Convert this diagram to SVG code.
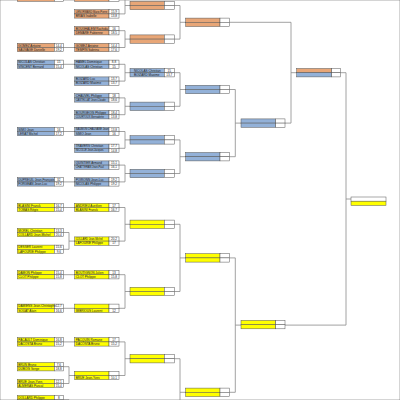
<svg xmlns="http://www.w3.org/2000/svg" width="400" height="400" viewBox="0 0 400 400">
<style>
.o{fill:#E8A677}.b{fill:#93B1D8}.y{fill:#FFFF00}.w{fill:#fff}
rect{stroke:#555;stroke-width:.5}
.c path{fill:none;stroke:#8a8a8a;stroke-width:.8}
text{font-family:"Liberation Sans",Arial,sans-serif;font-size:3.1px;fill:#222}
.n{font-size:2.6px}
.s{text-anchor:middle}
</style>
<rect width="400" height="400" fill="#fff" stroke="none"/>
<g class="c" id="connectors">
<path d="M63.3 47.5H74.7M63.3 64.3H74.7M63.3 131.5H74.7M63.3 181.9H74.7M63.3 207.5H74.7M63.3 274.7H74.7M63.3 308.3H74.7M63.3 341.9H74.7"/>
<path d="M63.3 232.5H69V249.3H63.3M69 241.1H74.7M63.3 366.7H69V383.5H63.3M69 375.5H74.7M63.3 399.7H69V402"/>
<path d="M119 -2.9H125V13.9H119M125 5.5H130M119 30.7H125V47.5H119M125 39.1H130M119 64.3H125V81.1H119M125 72.7H130M119 97.9H125V114.7H119M125 106.3H130M119 131.5H125V148.3H119M125 139.9H130M119 165.1H125V181.9H119M125 173.5H130M119 207.5H125V241.1H119M125 224.3H130M119 274.7H125V308.3H119M125 291.5H130M119 341.9H125V375.5H119M125 358.7H130"/>
<path d="M174.3 5.5H180V39.1H174.3M180 22.3H185.7M174.3 72.7H180V106.3H174.3M180 89.5H185.7M174.3 139.9H180V173.5H174.3M180 156.7H185.7M174.3 224.3H180V291.5H174.3M180 257.9H185.7M174.3 358.7H180V402M180 392.3H185.7"/>
<path d="M229.3 89.5H235.3V156.7H229.3M235.3 123.1H241M229.3 257.9H235.3V392.3H229.3M235.3 325.1H241"/>
<path d="M229.3 22.3H291V123.1H285M291 72.7H296.7M339.7 72.7H346V325.1H285M346 199H351"/>
</g>
<g id="c1-0" transform="translate(17.3,-7.1)"><rect class="o" width="37" height="4.2"/><rect class="o" y="4.2" width="37" height="4.2"/><rect class="w" x="37" width="9" height="4.2"/><rect class="w" x="37" y="4.2" width="9" height="4.2"/></g>
<g id="c1-1" transform="translate(17.3,43.3)"><rect class="o" width="37" height="4.2"/><rect class="o" y="4.2" width="37" height="4.2"/><rect class="w" x="37" width="9" height="4.2"/><rect class="w" x="37" y="4.2" width="9" height="4.2"/><text x="1" y="3.3">GOMEZ Antoine</text><text x="1" y="7.5">SAUVAGE Danielle</text><text class="s" x="41.5" y="3.3">14,4</text><text class="s" x="41.5" y="7.5">19,2</text></g>
<g id="c1-2" transform="translate(17.3,60.1)"><rect class="b" width="37" height="4.2"/><rect class="b" y="4.2" width="37" height="4.2"/><rect class="w" x="37" width="9" height="4.2"/><rect class="w" x="37" y="4.2" width="9" height="4.2"/><text x="1" y="3.3">NICOLAS Christian</text><text x="1" y="7.5">VINCENT Bernard</text><text class="s" x="41.5" y="3.3">15</text><text class="s" x="41.5" y="7.5">15,4</text></g>
<g id="c1-3" transform="translate(17.3,127.3)"><rect class="b" width="37" height="4.2"/><rect class="b" y="4.2" width="37" height="4.2"/><rect class="w" x="37" width="9" height="4.2"/><rect class="w" x="37" y="4.2" width="9" height="4.2"/><text x="1" y="3.3">SIMO Jean</text><text x="1" y="7.5">LERAT Michel</text><text class="s" x="41.5" y="3.3">16</text><text class="s" x="41.5" y="7.5">17,2</text></g>
<g id="c1-4" transform="translate(17.3,177.7)"><rect class="b" width="37" height="4.2"/><rect class="b" y="4.2" width="37" height="4.2"/><rect class="w" x="37" width="9" height="4.2"/><rect class="w" x="37" y="4.2" width="9" height="4.2"/><text x="1" y="3.3">DUPREUIL Jean-François</text><text x="1" y="7.5">FORGEAN Jean-Luc</text><text class="s" x="41.5" y="3.3">32</text><text class="s" x="41.5" y="7.5">19,2</text></g>
<g id="c1-5" transform="translate(17.3,203.3)"><rect class="y" width="37" height="4.2"/><rect class="y" y="4.2" width="37" height="4.2"/><rect class="w" x="37" width="9" height="4.2"/><rect class="w" x="37" y="4.2" width="9" height="4.2"/><text x="1" y="3.3">BLASINI Franck</text><text x="1" y="7.5">TOMAS Régis</text><text class="s" x="41.5" y="3.3">16,7</text><text class="s" x="41.5" y="7.5">15,4</text></g>
<g id="c1-6" transform="translate(17.3,228.3)"><rect class="y" width="37" height="4.2"/><rect class="y" y="4.2" width="37" height="4.2"/><rect class="w" x="37" width="9" height="4.2"/><rect class="w" x="37" y="4.2" width="9" height="4.2"/><text x="1" y="3.3">MOREL Christian</text><text x="1" y="7.5">COLLARD Jean-Michel</text><text class="s" x="41.5" y="3.3">13,3</text><text class="s" x="41.5" y="7.5">20,4</text></g>
<g id="c1-7" transform="translate(17.3,245.1)"><rect class="y" width="37" height="4.2"/><rect class="y" y="4.2" width="37" height="4.2"/><rect class="w" x="37" width="9" height="4.2"/><rect class="w" x="37" y="4.2" width="9" height="4.2"/><text x="1" y="3.3">DESSER Laurent</text><text x="1" y="7.5">LAFOURIE Philippe</text><text class="s" x="41.5" y="3.3">15,6</text><text class="s" x="41.5" y="7.5">9,6</text></g>
<g id="c1-8" transform="translate(17.3,270.5)"><rect class="y" width="37" height="4.2"/><rect class="y" y="4.2" width="37" height="4.2"/><rect class="w" x="37" width="9" height="4.2"/><rect class="w" x="37" y="4.2" width="9" height="4.2"/><text x="1" y="3.3">DAMON Philippe</text><text x="1" y="7.5">CLOT Philippe</text><text class="s" x="41.5" y="3.3">15,4</text><text class="s" x="41.5" y="7.5">15,8</text></g>
<g id="c1-9" transform="translate(17.3,304.1)"><rect class="y" width="37" height="4.2"/><rect class="y" y="4.2" width="37" height="4.2"/><rect class="w" x="37" width="9" height="4.2"/><rect class="w" x="37" y="4.2" width="9" height="4.2"/><text x="1" y="3.3">DAMIENS Jean-Christophe</text><text x="1" y="7.5">SOUAT Alain</text><text class="s" x="41.5" y="3.3">12,7</text><text class="s" x="41.5" y="7.5">16,6</text></g>
<g id="c1-10" transform="translate(17.3,337.7)"><rect class="y" width="37" height="4.2"/><rect class="y" y="4.2" width="37" height="4.2"/><rect class="w" x="37" width="9" height="4.2"/><rect class="w" x="37" y="4.2" width="9" height="4.2"/><text x="1" y="3.3">PACAULT Dominique</text><text x="1" y="7.5">DACOSTA Bruno</text><text class="s" x="41.5" y="3.3">16,8</text><text class="s" x="41.5" y="7.5">15,2</text></g>
<g id="c1-11" transform="translate(17.3,362.5)"><rect class="y" width="37" height="4.2"/><rect class="y" y="4.2" width="37" height="4.2"/><rect class="w" x="37" width="9" height="4.2"/><rect class="w" x="37" y="4.2" width="9" height="4.2"/><text x="1" y="3.3">BRUN Bruno</text><text x="1" y="7.5">DUBOIS Serge</text><text class="s" x="41.5" y="3.3">7,6</text><text class="s" x="41.5" y="7.5">18,8</text></g>
<g id="c1-12" transform="translate(17.3,379.3)"><rect class="y" width="37" height="4.2"/><rect class="y" y="4.2" width="37" height="4.2"/><rect class="w" x="37" width="9" height="4.2"/><rect class="w" x="37" y="4.2" width="9" height="4.2"/><text x="1" y="3.3">BRUE Jean-Yves</text><text x="1" y="7.5">ALMERAS Pascal</text><text class="s" x="41.5" y="3.3">12,1</text><text class="s" x="41.5" y="7.5">15,4</text></g>
<g id="c1-13" transform="translate(17.3,395.5)"><rect class="y" width="37" height="4.2"/><rect class="y" y="4.2" width="37" height="4.2"/><rect class="w" x="37" width="9" height="4.2"/><rect class="w" x="37" y="4.2" width="9" height="4.2"/><text x="1" y="3.3">DOLLARD Philippe</text><text class="s" x="41.5" y="3.3">8</text></g>
<g id="c2-0" transform="translate(74.7,-7.1)"><rect class="o" width="34.3" height="4.2"/><rect class="o" y="4.2" width="34.3" height="4.2"/><rect class="w" x="34.3" width="10" height="4.2"/><rect class="w" x="34.3" y="4.2" width="10" height="4.2"/></g>
<g id="c2-1" transform="translate(74.7,9.7)"><rect class="o" width="34.3" height="4.2"/><rect class="o" y="4.2" width="34.3" height="4.2"/><rect class="w" x="34.3" width="10" height="4.2"/><rect class="w" x="34.3" y="4.2" width="10" height="4.2"/><text class="n" x="1" y="3.2">LENORMAND Marie-Pierre</text><text x="1" y="7.5">BRIAS Isabelle</text><text class="s" x="39.3" y="3.3">15,9</text><text class="s" x="39.3" y="7.5">13,8</text></g>
<g id="c2-2" transform="translate(74.7,26.5)"><rect class="o" width="34.3" height="4.2"/><rect class="o" y="4.2" width="34.3" height="4.2"/><rect class="w" x="34.3" width="10" height="4.2"/><rect class="w" x="34.3" y="4.2" width="10" height="4.2"/><text x="1" y="3.3">BOUGHALEM Rachida</text><text x="1" y="7.5">DEMARE Fabienne</text><text class="s" x="39.3" y="3.3">16</text><text class="s" x="39.3" y="7.5">18,5</text></g>
<g id="c2-3" transform="translate(74.7,43.3)"><rect class="o" width="34.3" height="4.2"/><rect class="o" y="4.2" width="34.3" height="4.2"/><rect class="w" x="34.3" width="10" height="4.2"/><rect class="w" x="34.3" y="4.2" width="10" height="4.2"/><text x="1" y="3.3">GOMEZ Antoine</text><text x="1" y="7.5">TEMPIN Sabrina</text><text class="s" x="39.3" y="3.3">14,4</text><text class="s" x="39.3" y="7.5">17,6</text></g>
<g id="c2-4" transform="translate(74.7,60.1)"><rect class="b" width="34.3" height="4.2"/><rect class="b" y="4.2" width="34.3" height="4.2"/><rect class="w" x="34.3" width="10" height="4.2"/><rect class="w" x="34.3" y="4.2" width="10" height="4.2"/><text x="1" y="3.3">HAMEL Dominique</text><text x="1" y="7.5">NICOLAS Christian</text><text class="s" x="39.3" y="3.3">8,8</text><text class="s" x="39.3" y="7.5">15</text></g>
<g id="c2-5" transform="translate(74.7,76.9)"><rect class="b" width="34.3" height="4.2"/><rect class="b" y="4.2" width="34.3" height="4.2"/><rect class="w" x="34.3" width="10" height="4.2"/><rect class="w" x="34.3" y="4.2" width="10" height="4.2"/><text x="1" y="3.3">BOIZARD Luc</text><text x="1" y="7.5">BOIZARD Maxime</text><text class="s" x="39.3" y="3.3">13,7</text><text class="s" x="39.3" y="7.5">13,7</text></g>
<g id="c2-6" transform="translate(74.7,93.7)"><rect class="b" width="34.3" height="4.2"/><rect class="b" y="4.2" width="34.3" height="4.2"/><rect class="w" x="34.3" width="10" height="4.2"/><rect class="w" x="34.3" y="4.2" width="10" height="4.2"/><text x="1" y="3.3">CHAUVEL Philippe</text><text class="n" x="1" y="7.4">CASTELLAT Jean-Claude</text><text class="s" x="39.3" y="3.3">18</text><text class="s" x="39.3" y="7.5">18,6</text></g>
<g id="c2-7" transform="translate(74.7,110.5)"><rect class="b" width="34.3" height="4.2"/><rect class="b" y="4.2" width="34.3" height="4.2"/><rect class="w" x="34.3" width="10" height="4.2"/><rect class="w" x="34.3" y="4.2" width="10" height="4.2"/><text x="1" y="3.3">BOURGEOIS Philippe</text><text class="n" x="1" y="7.4">COURTOUX Bernadette</text><text class="s" x="39.3" y="3.3">18,4</text><text class="s" x="39.3" y="7.5">13,8</text></g>
<g id="c2-8" transform="translate(74.7,127.3)"><rect class="b" width="34.3" height="4.2"/><rect class="b" y="4.2" width="34.3" height="4.2"/><rect class="w" x="34.3" width="10" height="4.2"/><rect class="w" x="34.3" y="4.2" width="10" height="4.2"/><text class="n" x="1" y="3.2">SAUMON CHAUVANE Jean</text><text x="1" y="7.5">SIMO Jean</text><text class="s" x="39.3" y="3.3">13,8</text><text class="s" x="39.3" y="7.5">16</text></g>
<g id="c2-9" transform="translate(74.7,144.1)"><rect class="b" width="34.3" height="4.2"/><rect class="b" y="4.2" width="34.3" height="4.2"/><rect class="w" x="34.3" width="10" height="4.2"/><rect class="w" x="34.3" y="4.2" width="10" height="4.2"/><text x="1" y="3.3">TRAVERS Christian</text><text class="n" x="1" y="7.4">NICOLLE Jean-Jacques</text><text class="s" x="39.3" y="3.3">17,7</text><text class="s" x="39.3" y="7.5">14,8</text></g>
<g id="c2-10" transform="translate(74.7,160.9)"><rect class="b" width="34.3" height="4.2"/><rect class="b" y="4.2" width="34.3" height="4.2"/><rect class="w" x="34.3" width="10" height="4.2"/><rect class="w" x="34.3" y="4.2" width="10" height="4.2"/><text x="1" y="3.3">QUINTIER Armand</text><text class="n" x="1" y="7.4">CHATTERAN Jean-Paul</text><text class="s" x="39.3" y="3.3">15,1</text><text class="s" x="39.3" y="7.5">16,1</text></g>
<g id="c2-11" transform="translate(74.7,177.7)"><rect class="b" width="34.3" height="4.2"/><rect class="b" y="4.2" width="34.3" height="4.2"/><rect class="w" x="34.3" width="10" height="4.2"/><rect class="w" x="34.3" y="4.2" width="10" height="4.2"/><text x="1" y="3.3">POIRONN Jean-Luc</text><text x="1" y="7.5">NICOLAS Philippe</text><text class="s" x="39.3" y="3.3">19,2</text><text class="s" x="39.3" y="7.5">19,2</text></g>
<g id="c2-12" transform="translate(74.7,203.3)"><rect class="y" width="34.3" height="4.2"/><rect class="y" y="4.2" width="34.3" height="4.2"/><rect class="w" x="34.3" width="10" height="4.2"/><rect class="w" x="34.3" y="4.2" width="10" height="4.2"/><text x="1" y="3.3">ANDRIEU Aurélien</text><text x="1" y="7.5">BLASINI Franck</text><text class="s" x="39.3" y="3.3">17</text><text class="s" x="39.3" y="7.5">16,7</text></g>
<g id="c2-13" transform="translate(74.7,236.9)"><rect class="y" width="34.3" height="4.2"/><rect class="y" y="4.2" width="34.3" height="4.2"/><rect class="w" x="34.3" width="10" height="4.2"/><rect class="w" x="34.3" y="4.2" width="10" height="4.2"/><text class="n" x="1" y="3.2">COLLARD Jean-Michel</text><text x="1" y="7.5">LAFOURIE Philippe</text><text class="s" x="39.3" y="3.3">20,2</text><text class="s" x="39.3" y="7.5">17</text></g>
<g id="c2-14" transform="translate(74.7,270.5)"><rect class="y" width="34.3" height="4.2"/><rect class="y" y="4.2" width="34.3" height="4.2"/><rect class="w" x="34.3" width="10" height="4.2"/><rect class="w" x="34.3" y="4.2" width="10" height="4.2"/><text x="1" y="3.3">BOUTIGNON Julien</text><text x="1" y="7.5">CLOT Philippe</text><text class="s" x="39.3" y="3.3">13</text><text class="s" x="39.3" y="7.5">15,8</text></g>
<g id="c2-15" transform="translate(74.7,304.1)"><rect class="y" width="34.3" height="4.2"/><rect class="y" y="4.2" width="34.3" height="4.2"/><rect class="w" x="34.3" width="10" height="4.2"/><rect class="w" x="34.3" y="4.2" width="10" height="4.2"/><text x="1" y="7.5">IMBRIOUS Laurent</text><text class="s" x="39.3" y="7.5">12</text></g>
<g id="c2-16" transform="translate(74.7,337.7)"><rect class="y" width="34.3" height="4.2"/><rect class="y" y="4.2" width="34.3" height="4.2"/><rect class="w" x="34.3" width="10" height="4.2"/><rect class="w" x="34.3" y="4.2" width="10" height="4.2"/><text x="1" y="3.3">PACQUIN Romane</text><text x="1" y="7.5">DACOSTA Bruno</text><text class="s" x="39.3" y="3.3">17</text><text class="s" x="39.3" y="7.5">15,2</text></g>
<g id="c2-17" transform="translate(74.7,371.3)"><rect class="y" width="34.3" height="4.2"/><rect class="y" y="4.2" width="34.3" height="4.2"/><rect class="w" x="34.3" width="10" height="4.2"/><rect class="w" x="34.3" y="4.2" width="10" height="4.2"/><text x="1" y="7.5">BRUE Jean-Yves</text><text class="s" x="39.3" y="7.5">10,1</text></g>
<g id="c3-0" transform="translate(130,1.3)"><rect class="o" width="34.3" height="4.2"/><rect class="o" y="4.2" width="34.3" height="4.2"/><rect class="w" x="34.3" width="10" height="4.2"/><rect class="w" x="34.3" y="4.2" width="10" height="4.2"/></g>
<g id="c3-1" transform="translate(130,34.9)"><rect class="o" width="34.3" height="4.2"/><rect class="o" y="4.2" width="34.3" height="4.2"/><rect class="w" x="34.3" width="10" height="4.2"/><rect class="w" x="34.3" y="4.2" width="10" height="4.2"/></g>
<g id="c3-2" transform="translate(130,68.5)"><rect class="b" width="34.3" height="4.2"/><rect class="b" y="4.2" width="34.3" height="4.2"/><rect class="w" x="34.3" width="10" height="4.2"/><rect class="w" x="34.3" y="4.2" width="10" height="4.2"/><text x="4" y="3.3">NICOLAS Christian</text><text x="4" y="7.5">BOIZARD Maxime</text><text class="s" x="39.3" y="3.3">15</text><text class="s" x="39.3" y="7.5">13,7</text></g>
<g id="c3-3" transform="translate(130,102.1)"><rect class="b" width="34.3" height="4.2"/><rect class="b" y="4.2" width="34.3" height="4.2"/><rect class="w" x="34.3" width="10" height="4.2"/><rect class="w" x="34.3" y="4.2" width="10" height="4.2"/></g>
<g id="c3-4" transform="translate(130,135.7)"><rect class="b" width="34.3" height="4.2"/><rect class="b" y="4.2" width="34.3" height="4.2"/><rect class="w" x="34.3" width="10" height="4.2"/><rect class="w" x="34.3" y="4.2" width="10" height="4.2"/></g>
<g id="c3-5" transform="translate(130,169.3)"><rect class="b" width="34.3" height="4.2"/><rect class="b" y="4.2" width="34.3" height="4.2"/><rect class="w" x="34.3" width="10" height="4.2"/><rect class="w" x="34.3" y="4.2" width="10" height="4.2"/></g>
<g id="c3-6" transform="translate(130,220.1)"><rect class="y" width="34.3" height="4.2"/><rect class="y" y="4.2" width="34.3" height="4.2"/><rect class="w" x="34.3" width="10" height="4.2"/><rect class="w" x="34.3" y="4.2" width="10" height="4.2"/></g>
<g id="c3-7" transform="translate(130,287.3)"><rect class="y" width="34.3" height="4.2"/><rect class="y" y="4.2" width="34.3" height="4.2"/><rect class="w" x="34.3" width="10" height="4.2"/><rect class="w" x="34.3" y="4.2" width="10" height="4.2"/></g>
<g id="c3-8" transform="translate(130,354.5)"><rect class="y" width="34.3" height="4.2"/><rect class="y" y="4.2" width="34.3" height="4.2"/><rect class="w" x="34.3" width="10" height="4.2"/><rect class="w" x="34.3" y="4.2" width="10" height="4.2"/></g>
<g id="c4-0" transform="translate(185.7,18.1)"><rect class="o" width="34.3" height="4.2"/><rect class="o" y="4.2" width="34.3" height="4.2"/><rect class="w" x="34.3" width="9.3" height="4.2"/><rect class="w" x="34.3" y="4.2" width="9.3" height="4.2"/></g>
<g id="c4-1" transform="translate(185.7,85.3)"><rect class="b" width="34.3" height="4.2"/><rect class="b" y="4.2" width="34.3" height="4.2"/><rect class="w" x="34.3" width="9.3" height="4.2"/><rect class="w" x="34.3" y="4.2" width="9.3" height="4.2"/></g>
<g id="c4-2" transform="translate(185.7,152.5)"><rect class="b" width="34.3" height="4.2"/><rect class="b" y="4.2" width="34.3" height="4.2"/><rect class="w" x="34.3" width="9.3" height="4.2"/><rect class="w" x="34.3" y="4.2" width="9.3" height="4.2"/></g>
<g id="c4-3" transform="translate(185.7,253.7)"><rect class="y" width="34.3" height="4.2"/><rect class="y" y="4.2" width="34.3" height="4.2"/><rect class="w" x="34.3" width="9.3" height="4.2"/><rect class="w" x="34.3" y="4.2" width="9.3" height="4.2"/></g>
<g id="c4-4" transform="translate(185.7,388.1)"><rect class="y" width="34.3" height="4.2"/><rect class="y" y="4.2" width="34.3" height="4.2"/><rect class="w" x="34.3" width="9.3" height="4.2"/><rect class="w" x="34.3" y="4.2" width="9.3" height="4.2"/></g>
<g id="c5-0" transform="translate(241,118.9)"><rect class="b" width="34.7" height="4.2"/><rect class="b" y="4.2" width="34.7" height="4.2"/><rect class="w" x="34.7" width="9.3" height="4.2"/><rect class="w" x="34.7" y="4.2" width="9.3" height="4.2"/></g>
<g id="c5-1" transform="translate(241,320.4)"><rect class="y" width="34.7" height="4.2"/><rect class="y" y="4.2" width="34.7" height="4.2"/><rect class="w" x="34.7" width="9.3" height="4.2"/><rect class="w" x="34.7" y="4.2" width="9.3" height="4.2"/></g>
<g id="c6-0" transform="translate(296.7,68.5)"><rect class="o" width="35" height="4.2"/><rect class="b" y="4.2" width="35" height="4.2"/><rect class="w" x="35" width="8.7" height="4.2"/><rect class="w" x="35" y="4.2" width="8.7" height="4.2"/></g>
<g id="final" transform="translate(351,197)"><rect class="w" width="35" height="4.2"/><rect class="y" y="4.2" width="35" height="4.2"/></g>
</svg>
